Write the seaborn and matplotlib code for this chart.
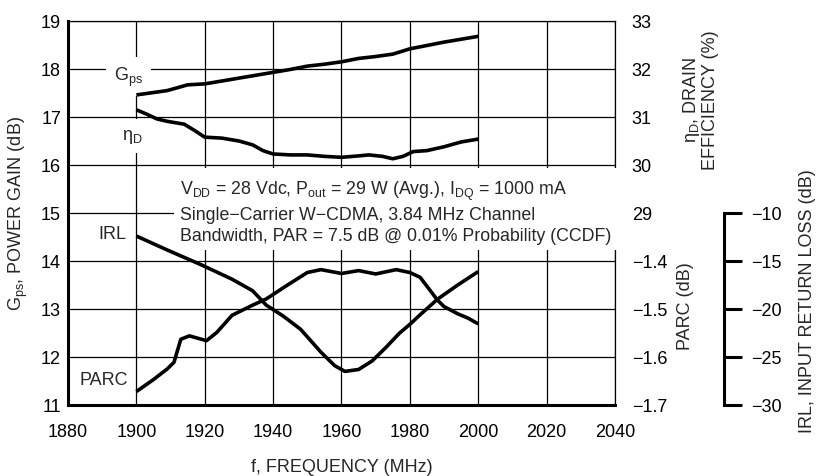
import matplotlib
matplotlib.use("Agg")
import matplotlib.pyplot as plt
from matplotlib import font_manager
import pandas as pd
import seaborn as sns

# ---- measured traces (frequency in MHz) ----
gps_freq = [1900, 1905, 1909, 1915, 1920, 1925, 1930, 1935, 1940, 1945, 1950,
            1955, 1960, 1965, 1970, 1975, 1980, 1985, 1990, 1995, 2000]
gps_db = [17.46, 17.51, 17.55, 17.67, 17.69, 17.75, 17.81, 17.87, 17.93, 17.99, 18.06,
          18.10, 18.15, 18.22, 18.26, 18.31, 18.42, 18.49, 18.56, 18.62, 18.68]

eff_freq = [1900, 1903, 1906, 1909, 1914, 1917, 1920, 1925, 1930, 1934, 1937, 1940,
            1945, 1950, 1955, 1960, 1965, 1968, 1972, 1975, 1978, 1981, 1985, 1990,
            1995, 2000]
eff_pct = [31.15, 31.06, 30.96, 30.91, 30.85, 30.72, 30.58, 30.56, 30.50, 30.42, 30.30,
           30.23, 30.21, 30.21, 30.18, 30.16, 30.19, 30.21, 30.18, 30.13, 30.18, 30.28,
           30.30, 30.38, 30.48, 30.54]

irl_freq = [1900, 1909, 1919, 1928, 1934, 1938, 1943, 1948, 1954, 1958, 1961, 1965,
            1969, 1973, 1977, 1980, 1983, 1988, 1994, 2000]
irl_db = [-12.4, -13.85, -15.4, -16.9, -18.1, -19.6, -20.75, -22.1, -24.5, -25.9, -26.5,
          -26.3, -25.4, -24.0, -22.5, -21.6, -20.6, -19.0, -17.5, -16.1]

parc_freq = [1900, 1905, 1909, 1911, 1913, 1915.5, 1920.5, 1923.5, 1928, 1934, 1938,
             1944, 1950, 1954, 1960, 1965, 1970, 1976, 1980, 1983, 1986, 1988, 1990,
             1994, 1997, 2000]
parc_db = [-1.672, -1.647, -1.625, -1.611, -1.563, -1.556, -1.566, -1.549, -1.513,
           -1.492, -1.479, -1.451, -1.424, -1.418, -1.426, -1.420, -1.427, -1.418,
           -1.424, -1.434, -1.462, -1.481, -1.495, -1.510, -1.519, -1.531]

# ---- axis scales ----
freq_ticks = [1880, 1900, 1920, 1940, 1960, 1980, 2000, 2020, 2040]
gain_ticks = [11, 12, 13, 14, 15, 16, 17, 18, 19]
eff_ticks = [29, 30, 31, 32, 33]
parc_ticks = [-1.7, -1.6, -1.5, -1.4]
irl_ticks = [-30, -25, -20, -15, -10]

# ---- style ----
sns.set_style("white")
names = {f.name for f in font_manager.fontManager.ttflist}
base_font = "Liberation Sans Narrow" if "Liberation Sans Narrow" in names else "Liberation Sans"
plt.rcParams["font.family"] = [base_font, "DejaVu Sans"]
plt.rcParams["mathtext.fontset"] = "custom"
plt.rcParams["mathtext.rm"] = base_font
plt.rcParams["mathtext.default"] = "regular"
plt.rcParams["axes.unicode_minus"] = True
FS = 15 if base_font.endswith("Narrow") else 13
FS_NOTE = 15 if base_font.endswith("Narrow") else 12.8
LW = 2.6
GRID_LW = 0.9
INK = "black"

W, H = 820, 477
fig = plt.figure(figsize=(W / 100, H / 100), dpi=100)
x0, x1, y0, y1 = 68, 615, 22, 406
ax = fig.add_axes([x0 / W, 1 - y1 / H, (x1 - x0) / W, (y1 - y0) / H])

# main axes: power gain
ax.set_xlim(1880, 2040)
ax.set_ylim(11, 19)
ax.set_xticks(freq_ticks)
ax.set_yticks(gain_ticks)
ax.grid(True, color=INK, linewidth=GRID_LW)
ax.set_axisbelow(True)
for side in ["left", "bottom"]:
    ax.spines[side].set_linewidth(2.2)
    ax.spines[side].set_color(INK)
for side in ["top", "right"]:
    ax.spines[side].set_linewidth(GRID_LW)
    ax.spines[side].set_color(INK)
ax.tick_params(axis="both", length=0, labelsize=FS, colors=INK)
ax.tick_params(axis="x", pad=13)
ax.tick_params(axis="y", pad=5)

line_kw = dict(color=INK, linewidth=LW, solid_joinstyle="round", solid_capstyle="butt")

sns.lineplot(data=pd.DataFrame({"f": gps_freq, "v": gps_db}), x="f", y="v",
             ax=ax, zorder=4, **line_kw)
ax.set_xlabel("")
ax.set_ylabel("")

# drain efficiency twin
ax_eff = ax.twinx()
ax_eff.set_ylim(25, 33)
ax_eff.set_yticks(eff_ticks)
sns.lineplot(data=pd.DataFrame({"f": eff_freq, "v": eff_pct}), x="f", y="v",
             ax=ax_eff, **line_kw)

# PARC twin
ax_parc = ax.twinx()
ax_parc.set_ylim(-1.7, -0.9)
ax_parc.set_yticks(parc_ticks)
ax_parc.set_yticklabels([f"{v:.1f}".replace("-", "\u2212") for v in parc_ticks])
sns.lineplot(data=pd.DataFrame({"f": parc_freq, "v": parc_db}), x="f", y="v",
             ax=ax_parc, **line_kw)

# IRL twin (scale drawn separately on the far right)
ax_irlc = ax.twinx()
ax_irlc.set_ylim(-30, 10)
ax_irlc.set_yticks([])
sns.lineplot(data=pd.DataFrame({"f": irl_freq, "v": irl_db}), x="f", y="v",
             ax=ax_irlc, **line_kw)

for a in (ax_eff, ax_parc, ax_irlc):
    a.set_xlim(1880, 2040)
    a.set_xlabel("")
    a.set_ylabel("")
    for side in a.spines:
        a.spines[side].set_visible(False)
    a.tick_params(axis="y", length=0, labelsize=FS, colors=INK, pad=12)
    a.grid(False)

# separate IRL scale
irl_x = 724
irl_tick_px = 17.7
ax_irl = fig.add_axes([irl_x / W, 1 - y1 / H, irl_tick_px / W, (y1 - y0) / 2 / H])
ax_irl.patch.set_alpha(0)
ax_irl.set_ylim(-30, -10)
ax_irl.set_yticks(irl_ticks)
ax_irl.set_xticks([])
for side in ["top", "right", "bottom"]:
    ax_irl.spines[side].set_visible(False)
ax_irl.spines["left"].set_linewidth(2.2)
ax_irl.spines["left"].set_color(INK)
ax_irl.tick_params(axis="y", left=True, right=False, labelleft=False, labelright=True,
                   direction="in", length=irl_tick_px * 0.72, width=2.2,
                   labelsize=FS, colors=INK, pad=7)

# curve labels
box = dict(boxstyle="square,pad=0.45", fc="white", ec="none")
ax.text(1897.7, 17.84, "$G_{ps}$", fontsize=FS, ha="center", va="center", bbox=box, zorder=3)
ax.text(1898.8, 16.60, "$η_{D}$", fontsize=FS, ha="center", va="center", bbox=box, zorder=3)
ax.text(1892.9, 14.58, "IRL", fontsize=FS, ha="center", va="center", zorder=3)
ax.text(1890.6, 11.54, "PARC", fontsize=FS, ha="center", va="center", zorder=3)

# test conditions
cond = ("V$_{DD}$ = 28 Vdc, P$_{out}$ = 29 W (Avg.), I$_{DQ}$ = 1000 mA\n"
        "Single\u2212Carrier W\u2212CDMA, 3.84 MHz Channel\n"
        "Bandwidth, PAR = 7.5 dB @ 0.01% Probability (CCDF)")
ax.text(1912.7, 15.04, cond, fontsize=FS_NOTE, ha="left", va="center", linespacing=1.3,
        bbox=dict(boxstyle="square,pad=0.35", fc="white", ec="none"), zorder=3)

# axis titles
ax.text(0.5, (y1 - 468) / (y1 - y0), "f, FREQUENCY (MHz)", transform=ax.transAxes,
        fontsize=FS, ha="center", va="center")
ax.text((18 - x0) / (x1 - x0), 0.5, "$G_{ps}$, POWER GAIN (dB)", transform=ax.transAxes,
        fontsize=FS, ha="center", va="center", rotation=90)
ax.text((700 - x0) / (x1 - x0), (y1 - 100) / (y1 - y0), "$η_{D}$, DRAIN\nEFFICIENCY (%)",
        transform=ax.transAxes, fontsize=FS, ha="center", va="center", rotation=90,
        linespacing=1.05)
ax.text((686 - x0) / (x1 - x0), (y1 - 306) / (y1 - y0), "PARC (dB)", transform=ax.transAxes,
        fontsize=FS, ha="center", va="center", rotation=90)
ax.text((808 - x0) / (x1 - x0), (y1 - 301) / (y1 - y0), "IRL, INPUT RETURN LOSS (dB)",
        transform=ax.transAxes, fontsize=FS, ha="center", va="center", rotation=90)

fig.savefig("out.png", dpi=100, facecolor="white")
